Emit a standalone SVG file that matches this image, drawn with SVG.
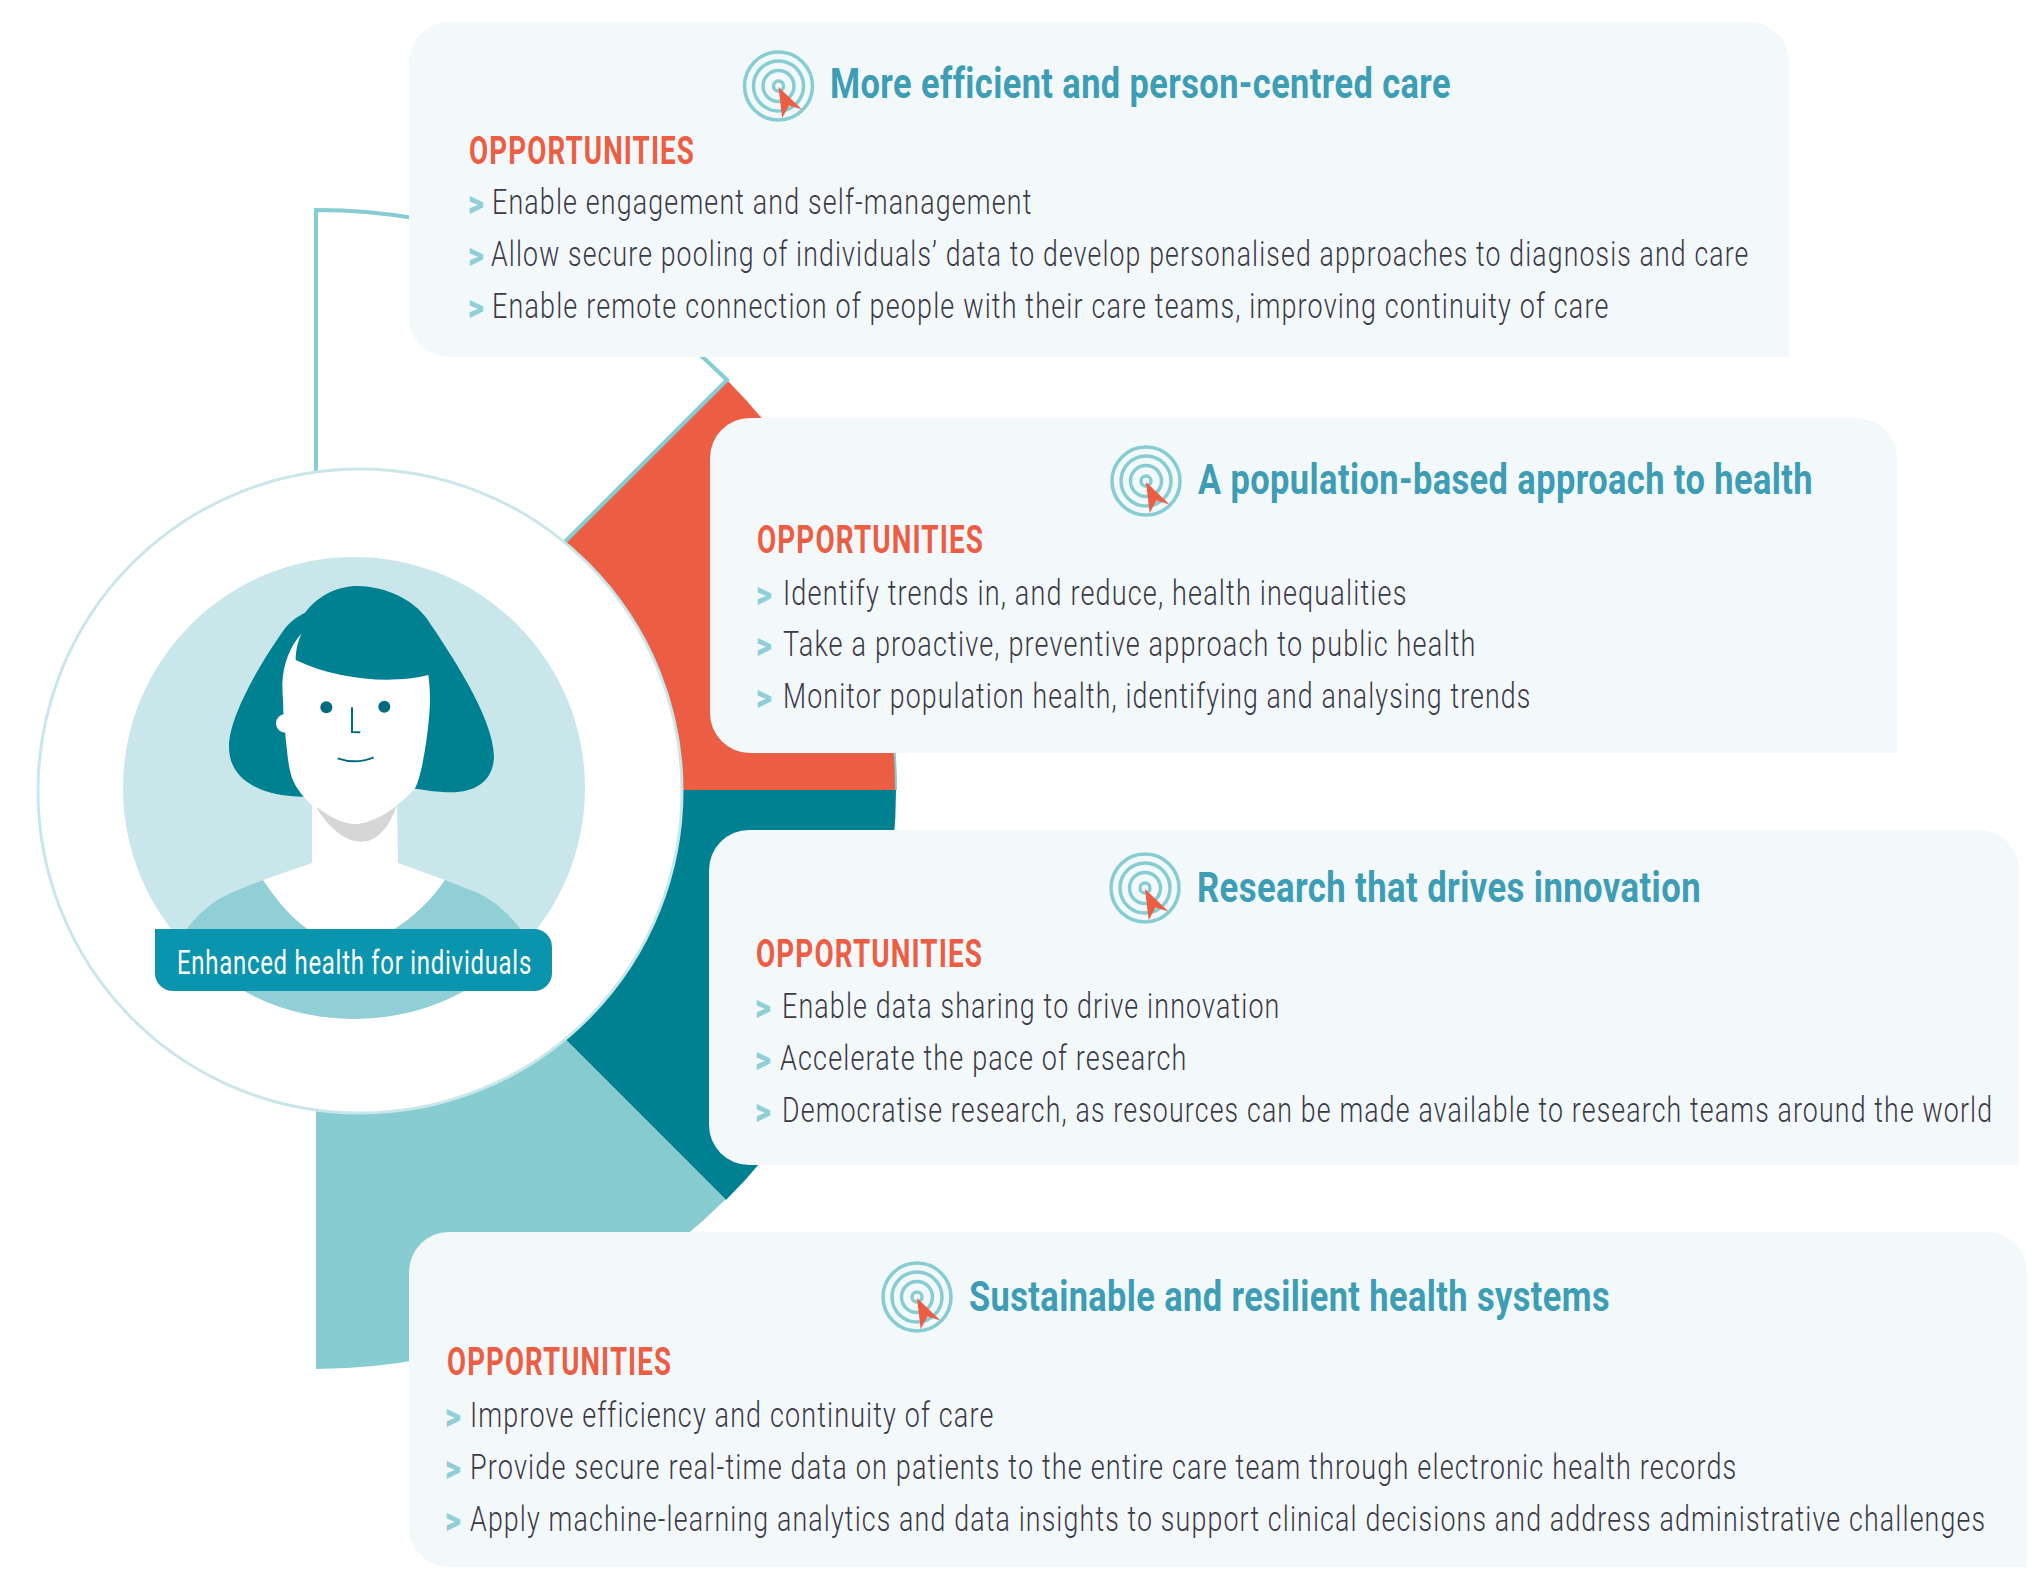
<svg xmlns="http://www.w3.org/2000/svg" xmlns:xlink="http://www.w3.org/1999/xlink" width="2036" height="1582" viewBox="0 0 2036 1582">
<style>
text{font-family:"Roboto","Liberation Sans",sans-serif}
.card{fill:#f3f8fb}
.title{font-size:42px;font-weight:700;fill:#3d9db5;letter-spacing:.5px}
.opp{font-size:38px;font-weight:700;fill:#ec5e44;letter-spacing:1.5px}
.item{font-size:35px;font-weight:300;fill:#3a3a45;letter-spacing:1.5px}
.gt{font-size:36px;font-weight:900;fill:#8fd0d6;transform:translateY(2px)}
.ring{fill:none;stroke:#85cdd2;stroke-width:3.5}
</style>
<defs>
<g id="icon">
<circle class="ring" r="34"/><circle class="ring" r="25"/><circle class="ring" r="15.5"/><circle class="ring" r="5"/>
<path d="M0 1L23.5 23.5L10.5 19.5L3.7 32Z" fill="#ec5e44"/>
</g>
<clipPath id="inner"><circle cx="354" cy="788" r="231"/></clipPath>
</defs>
<rect width="2036" height="1582" fill="#fff"/>
<g id="connectors">
<path d="M316 790L727 380A580 580 0 0 1 896 790Z" fill="#ec5e44"/>
<path d="M891.8 720A580 580 0 0 1 896 790" fill="none" stroke="#85cdd2" stroke-width="2"/>
<path d="M316 790V210A580 580 0 0 1 727 380L316 790Z" fill="#fff" stroke="#85cdd2" stroke-width="4"/>
<path d="M316 790H896A580 580 0 0 1 726 1200Z" fill="#008192"/>
<path d="M316 790L725.4 1199.4A579 579 0 0 1 316 1369Z" fill="#86ccd0"/>
</g>
<g id="hub">
<circle cx="360" cy="791" r="322" fill="#fff" stroke="#c9e7ea" stroke-width="3"/>
<circle cx="354" cy="788" r="231" fill="#c9e7ea"/>
<g clip-path="url(#inner)">
<path d="M263 880L231 893C212 901 197 915 186 930L120 1030H600L521 930C510 915 495 901 478 893L445 880Z" fill="#90cfd5"/>
<path d="M312 806V863L263 880C280 905 293 919 309 930L393 930C412 918 430 902 445 880L398 863L397 806Z" fill="#fff"/>
</g>
<g transform="translate(230 570) scale(.33333)">
<path d="M225 128C270 70 330 48 385 48C470 50 550 90 590 145C660 250 790 440 792 560C790 630 740 668 660 667C620 667 580 660 550 655L220 680C110 680 -3 640 -3 530C-3 440 90 280 165 175C185 150 205 138 225 128Z" fill="#008192"/>
<circle cx="166" cy="460" r="28" fill="#fff"/>
<path d="M215 190C180 230 160 280 157 340C157 370 160 400 160 425L167 505C172 550 175 590 185 620C200 670 280 760 375 762C430 762 520 700 555 655C580 610 600 450 600 390C600 360 598 335 595 315C500 340 330 335 197 270C197 240 205 210 215 190Z" fill="#fff"/>
<path d="M258 710C300 740 340 762 375 762C420 762 470 730 500 707C480 770 440 815 395 815C340 815 290 765 258 710Z" fill="#d6d6d6"/>
<circle cx="289" cy="412" r="18" fill="#006b7e"/><circle cx="463" cy="410" r="18" fill="#006b7e"/>
<path d="M366 412V486L391 487M323 565C360 578 400 575 431 562" fill="none" stroke="#006b7e" stroke-width="6"/>
</g>
<path d="M155 929H534A18 18 0 0 1 552 947V973A18 18 0 0 1 534 991H173A18 18 0 0 1 155 973Z" fill="#0a94ad"/>
<text x="177" y="974" font-size="33" fill="#fff" letter-spacing="1" textLength="355" lengthAdjust="spacingAndGlyphs">Enhanced health for individuals</text>
</g>
<g id="card1">
<path class="card" d="M449 22H1749A40 40 0 0 1 1789 62V357H449A40 40 0 0 1 409 317V62A40 40 0 0 1 449 22Z"/>
<use xlink:href="#icon" href="#icon" x="778.5" y="86"/>
<text class="title" x="830" y="98" textLength="621" lengthAdjust="spacingAndGlyphs">More efficient and person-centred care</text>
<text class="opp" x="469" y="164" textLength="226" lengthAdjust="spacingAndGlyphs">OPPORTUNITIES</text>
<text class="gt" x="468" y="214" textLength="16" lengthAdjust="spacingAndGlyphs">&gt;</text><text class="item" x="492" y="214" textLength="540.5" lengthAdjust="spacingAndGlyphs">Enable engagement and self-management</text>
<text class="gt" x="468" y="266" textLength="16" lengthAdjust="spacingAndGlyphs">&gt;</text><text class="item" transform="translate(491 266) scale(.75 1)" x="0" y="0" textLength="1678" lengthAdjust="spacingAndGlyphs">Allow secure pooling of individuals’ data to develop personalised approaches to diagnosis and care</text>
<text class="gt" x="468" y="318" textLength="16" lengthAdjust="spacingAndGlyphs">&gt;</text><text class="item" x="492" y="318" textLength="1117.5" lengthAdjust="spacingAndGlyphs">Enable remote connection of people with their care teams, improving continuity of care</text>
</g>
<g id="card2">
<path class="card" d="M750 418H1857A40 40 0 0 1 1897 458V753H750A40 40 0 0 1 710 713V458A40 40 0 0 1 750 418Z"/>
<use xlink:href="#icon" href="#icon" x="1146" y="481"/>
<text class="title" x="1198" y="494" textLength="615" lengthAdjust="spacingAndGlyphs">A population-based approach to health</text>
<text class="opp" x="757" y="553" textLength="227" lengthAdjust="spacingAndGlyphs">OPPORTUNITIES</text>
<text class="gt" x="756" y="605" textLength="16" lengthAdjust="spacingAndGlyphs">&gt;</text><text class="item" x="783" y="605" textLength="624.5" lengthAdjust="spacingAndGlyphs">Identify trends in, and reduce, health inequalities</text>
<text class="gt" x="756" y="656" textLength="16" lengthAdjust="spacingAndGlyphs">&gt;</text><text class="item" x="783" y="656" textLength="693.5" lengthAdjust="spacingAndGlyphs">Take a proactive, preventive approach to public health</text>
<text class="gt" x="756" y="708" textLength="16" lengthAdjust="spacingAndGlyphs">&gt;</text><text class="item" x="783" y="708" textLength="748.5" lengthAdjust="spacingAndGlyphs">Monitor population health, identifying and analysing trends</text>
</g>
<g id="card3">
<path class="card" d="M749 830H1979A40 40 0 0 1 2019 870V1165H749A40 40 0 0 1 709 1125V870A40 40 0 0 1 749 830Z"/>
<use xlink:href="#icon" href="#icon" x="1145" y="888"/>
<text class="title" x="1197" y="902" textLength="504" lengthAdjust="spacingAndGlyphs">Research that drives innovation</text>
<text class="opp" x="756" y="967" textLength="227" lengthAdjust="spacingAndGlyphs">OPPORTUNITIES</text>
<text class="gt" x="755" y="1018" textLength="16" lengthAdjust="spacingAndGlyphs">&gt;</text><text class="item" x="782" y="1018" textLength="498.5" lengthAdjust="spacingAndGlyphs">Enable data sharing to drive innovation</text>
<text class="gt" x="755" y="1070" textLength="16" lengthAdjust="spacingAndGlyphs">&gt;</text><text class="item" x="780" y="1070" textLength="407.5" lengthAdjust="spacingAndGlyphs">Accelerate the pace of research</text>
<text class="gt" x="755" y="1122" textLength="16" lengthAdjust="spacingAndGlyphs">&gt;</text><text class="item" transform="translate(782 1122) scale(.75 1)" x="0" y="0" textLength="1615" lengthAdjust="spacingAndGlyphs">Democratise research, as resources can be made available to research teams around the world</text>
</g>
<g id="card4">
<path class="card" d="M449 1232H1987A40 40 0 0 1 2027 1272V1567H449A40 40 0 0 1 409 1527V1272A40 40 0 0 1 449 1232Z"/>
<use xlink:href="#icon" href="#icon" x="917" y="1297"/>
<text class="title" x="969" y="1311" textLength="641" lengthAdjust="spacingAndGlyphs">Sustainable and resilient health systems</text>
<text class="opp" x="447" y="1375" textLength="225" lengthAdjust="spacingAndGlyphs">OPPORTUNITIES</text>
<text class="gt" x="445" y="1427" textLength="16" lengthAdjust="spacingAndGlyphs">&gt;</text><text class="item" x="470" y="1427" textLength="524.5" lengthAdjust="spacingAndGlyphs">Improve efficiency and continuity of care</text>
<text class="gt" x="445" y="1479" textLength="16" lengthAdjust="spacingAndGlyphs">&gt;</text><text class="item" transform="translate(470 1479) scale(.75 1)" x="0" y="0" textLength="1690" lengthAdjust="spacingAndGlyphs">Provide secure real-time data on patients to the entire care team through electronic health records</text>
<text class="gt" x="445" y="1531" textLength="16" lengthAdjust="spacingAndGlyphs">&gt;</text><text class="item" transform="translate(470 1531) scale(.7 1)" x="0" y="0" textLength="2166" lengthAdjust="spacingAndGlyphs">Apply machine-learning analytics and data insights to support clinical decisions and address administrative challenges</text>
</g>
</svg>
